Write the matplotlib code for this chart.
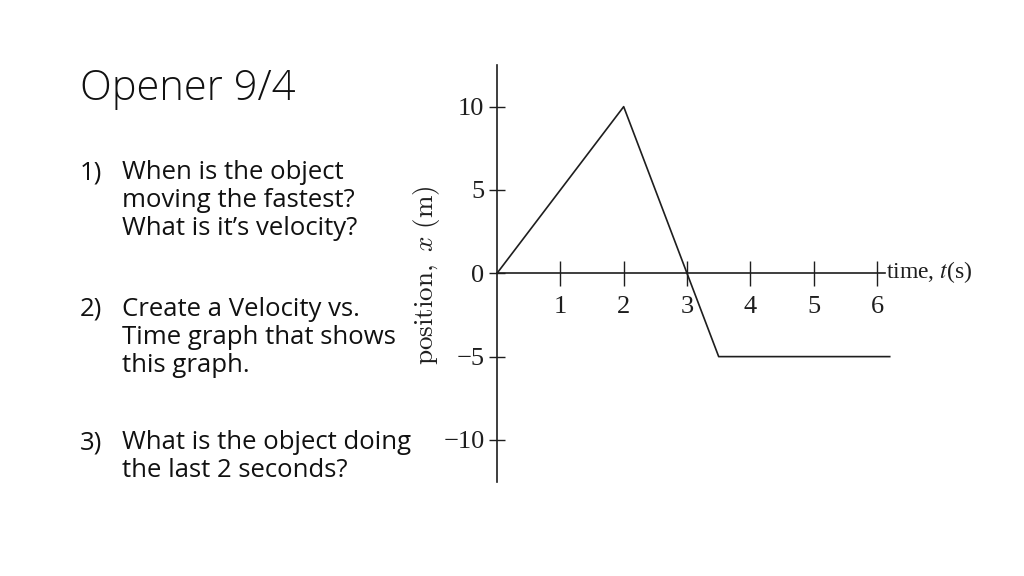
import matplotlib
matplotlib.use("Agg")
import matplotlib.pyplot as plt

# ── Data ───────────────────────────────────────────────────────────────────────
time_s     = [0, 2, 3.5, 6.2]
position_m = [0, 10, -5, -5]
x_ticks    = [1, 2, 3, 4, 5, 6]
y_ticks    = [-10, -5, 0, 5, 10]

TITLE = "Opener 9/4"
QUESTIONS = [
    ("1)", ["When is the object", "moving the fastest?", "What is it\u2019s velocity?"]),
    ("2)", ["Create a Velocity vs.", "Time graph that shows", "this graph."]),
    ("3)", ["What is the object doing", "the last 2 seconds?"]),
]
Q_BASELINES = [179, 316, 449]   # px from top, first line of each question
LINE_STEP   = 28                # px between lines

INK = "#1e1e1e"
W, H = 1024, 576

fig = plt.figure(figsize=(W / 100, H / 100), dpi=100, facecolor="white")

# ── Slide text ─────────────────────────────────────────────────────────────────
fig.text(80 / W, 1 - 100 / H, TITLE, fontsize=30, family="Open Sans",
         fontweight="light", color="#111111", va="baseline", ha="left")

for (num, lines), base in zip(QUESTIONS, Q_BASELINES):
    fig.text(80 / W, 1 - base / H, num, fontsize=18.5, family="Open Sans",
             color="#111111", va="baseline", ha="left")
    for i, ln in enumerate(lines):
        fig.text(122 / W, 1 - (base + i * LINE_STEP) / H, ln, fontsize=18.5,
                 family="Open Sans", color="#111111", va="baseline", ha="left")

# ── Graph ──────────────────────────────────────────────────────────────────────
ax = fig.add_axes([497 / W, 1 - 481.6 / H, 392.7 / W, 416.6 / H])
ax.set_facecolor("none")
ax.set_xlim(0, 6.2)
ax.set_ylim(-12.5, 12.5)

ax.plot(time_s, position_m, color=INK, lw=1.2, clip_on=False)

for s in ("top", "right"):
    ax.spines[s].set_visible(False)
ax.spines["bottom"].set_position(("data", 0))
ax.spines["bottom"].set_bounds(0, 6.13)
for s in ("left", "bottom"):
    ax.spines[s].set_color(INK)
    ax.spines[s].set_linewidth(1.2)

ax.set_xticks(x_ticks)
ax.set_yticks(y_ticks)
ax.set_xticklabels([str(v) for v in x_ticks], family="Liberation Serif", fontsize=19)
ax.set_yticklabels([str(v).replace("-", "\u2212") for v in y_ticks],
                   family="Liberation Serif", fontsize=19)
ax.tick_params(axis="x", direction="inout", length=18, width=1.0, pad=7, colors=INK)
ax.tick_params(axis="y", direction="inout", length=12, width=1.0, pad=3, colors=INK)

# axis labels
fig.text(427 / W, 1 - 275 / H,
         r"$\mathrm{position,}\ x\ \mathrm{(m)}$",
         rotation=90, fontsize=19.5, math_fontfamily="cm", color=INK,
         ha="center", va="center")
fig.text(886 / W, 1 - 272 / H, r"time, $t$(s)", family="Liberation Serif",
         math_fontfamily="stix", fontsize=17, color=INK, ha="left", va="center")

plt.savefig("out.png", dpi=100, facecolor="white")
plt.close()
